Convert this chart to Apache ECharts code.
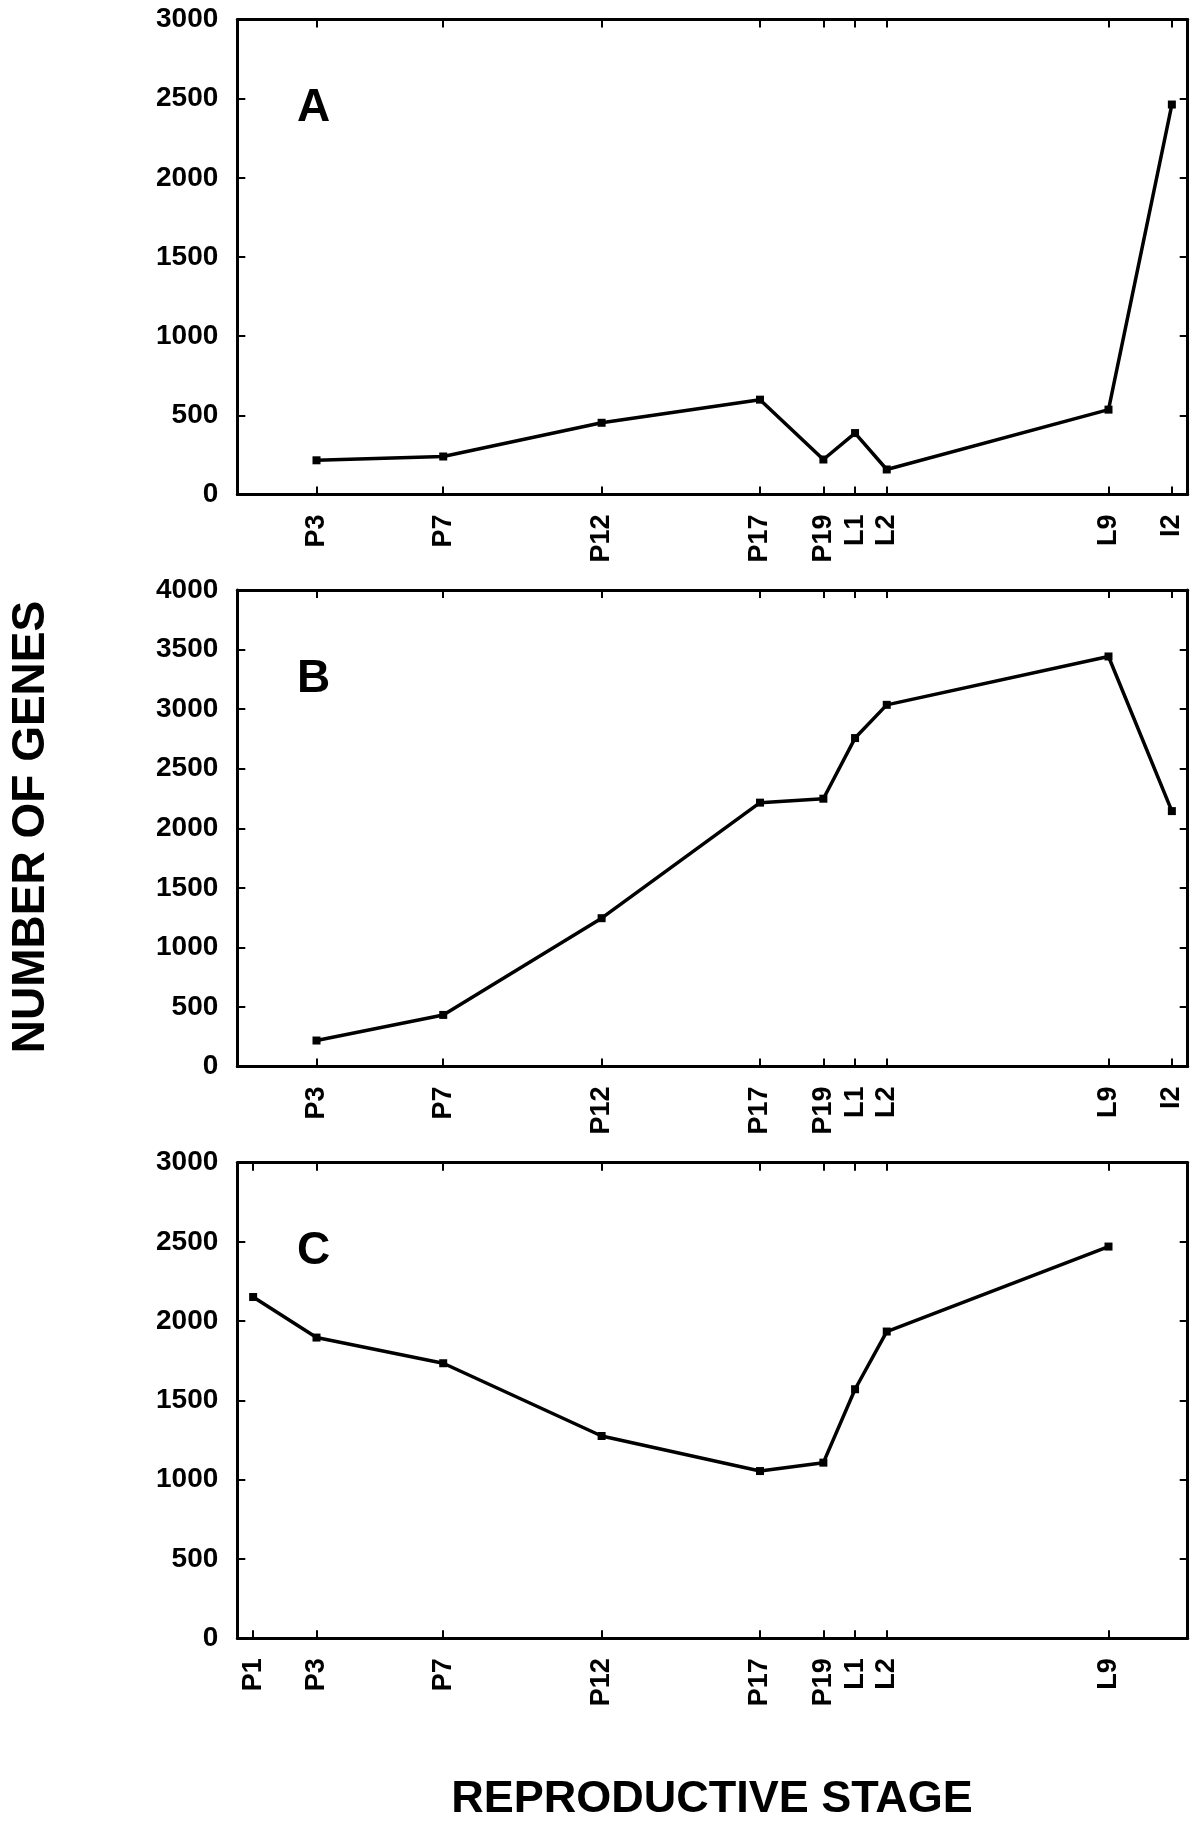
<!DOCTYPE html>
<html>
<head>
<meta charset="utf-8">
<script src="https://cdn.jsdelivr.net/npm/echarts@6/dist/echarts.min.js"></script>
<style>
html,body{margin:0;padding:0;background:#fff;}
#chart{width:1200px;height:1825px;}
</style>
</head>
<body>
<div id="chart"></div>
<script>
// Stage labels and their positions along the developmental axis
const stagesAB = ['P3','P7','P12','P17','P19','L1','L2','L9','I2'];
const posAB    = [3, 7, 12, 17, 19, 20, 21, 28, 30];
const stagesC  = ['P1','P3','P7','P12','P17','P19','L1','L2','L9'];
const posC     = [1, 3, 7, 12, 17, 19, 20, 21, 28];

// Number of genes per panel
const valuesA = [216, 240, 453, 599, 221, 388, 158, 536, 2463];
const valuesB = [218, 433, 1245, 2215, 2248, 2757, 3036, 3442, 2144];
const valuesC = [2153, 1897, 1735, 1276, 1055, 1108, 1571, 1935, 2471];

// Y axis ranges
const yMaxA = 3000, yMaxB = 4000, yMaxC = 3000;
const panelLetters = ['A', 'B', 'C'];

const chart = echarts.init(document.getElementById('chart'), null, {renderer: 'canvas'});

const FONT = '"Liberation Sans", Arial, Helvetica, sans-serif';

const panels = [
  {names: stagesAB, pos: posAB, vals: valuesA, max: yMaxA, top: 19.5, height: 475},
  {names: stagesAB, pos: posAB, vals: valuesB, max: yMaxB, top: 590, height: 476.5},
  {names: stagesC,  pos: posC,  vals: valuesC, max: yMaxC, top: 1162.7, height: 475.6}
];

const grids = [], xAxes = [], yAxes = [], series = [], graphics = [];
const lineStyle = {color: '#000', width: 3};
const tickStyle = {color: '#000', width: 2};

panels.forEach((p, i) => {
  grids.push({left: 237.3, right: 12.3, top: p.top, height: p.height, containLabel: false});
  const fmt = v => { const k = p.pos.indexOf(v); return k >= 0 ? p.names[k] : ''; };
  xAxes.push({
    gridIndex: i, type: 'value', min: 0.5, max: 30.5, position: 'bottom',
    axisLine: {onZero: false, lineStyle: lineStyle},
    axisTick: {inside: true, length: 8, lineStyle: tickStyle, customValues: p.pos},
    axisLabel: {customValues: p.pos, formatter: fmt, rotate: 90, margin: 20,
      fontFamily: FONT, fontWeight: 'bold', fontSize: 27, color: '#000'},
    splitLine: {show: false}
  });
  xAxes.push({
    gridIndex: i, type: 'value', min: 0.5, max: 30.5, position: 'top',
    axisLine: {onZero: false, lineStyle: lineStyle},
    axisTick: {inside: true, length: 8, lineStyle: tickStyle, customValues: p.pos},
    axisLabel: {show: false},
    splitLine: {show: false}
  });
  yAxes.push({
    gridIndex: i, type: 'value', min: 0, max: p.max, interval: 500, position: 'left',
    axisLine: {show: true, onZero: false, lineStyle: lineStyle},
    axisTick: {show: true, inside: true, length: 8, lineStyle: tickStyle},
    axisLabel: {margin: 19, formatter: v => String(v), fontFamily: FONT, fontWeight: 'bold', fontSize: 28, color: '#000'},
    splitLine: {show: false}
  });
  yAxes.push({
    gridIndex: i, type: 'value', min: 0, max: p.max, interval: 500, position: 'right',
    axisLine: {show: true, onZero: false, lineStyle: lineStyle},
    axisTick: {show: true, inside: true, length: 8, lineStyle: tickStyle},
    axisLabel: {show: false},
    splitLine: {show: false}
  });
  series.push({
    type: 'line', xAxisIndex: 2 * i, yAxisIndex: 2 * i,
    data: p.pos.map((x, k) => [x, p.vals[k]]),
    symbol: 'rect', symbolSize: 8, showSymbol: true,
    lineStyle: {color: '#000', width: 3.5},
    itemStyle: {color: '#000'},
    z: 3
  });
  graphics.push({
    type: 'text', left: 297, top: p.top + 66,
    style: {text: panelLetters[i], font: 'bold 46px ' + FONT, fill: '#000'}
  });
});

graphics.push({
  type: 'text', x: 31, y: 827, rotation: Math.PI / 2,
  style: {text: 'NUMBER OF GENES', font: 'bold 46px ' + FONT, fill: '#000',
    textAlign: 'center', textVerticalAlign: 'middle'}
});
graphics.push({
  type: 'text', x: 712, y: 1800,
  style: {text: 'REPRODUCTIVE STAGE', font: 'bold 45px ' + FONT, fill: '#000',
    textAlign: 'center', textVerticalAlign: 'middle'}
});

chart.setOption({
  animation: false,
  backgroundColor: '#fff',
  grid: grids,
  xAxis: xAxes,
  yAxis: yAxes,
  series: series,
  graphic: graphics
});
</script>
</body>
</html>
